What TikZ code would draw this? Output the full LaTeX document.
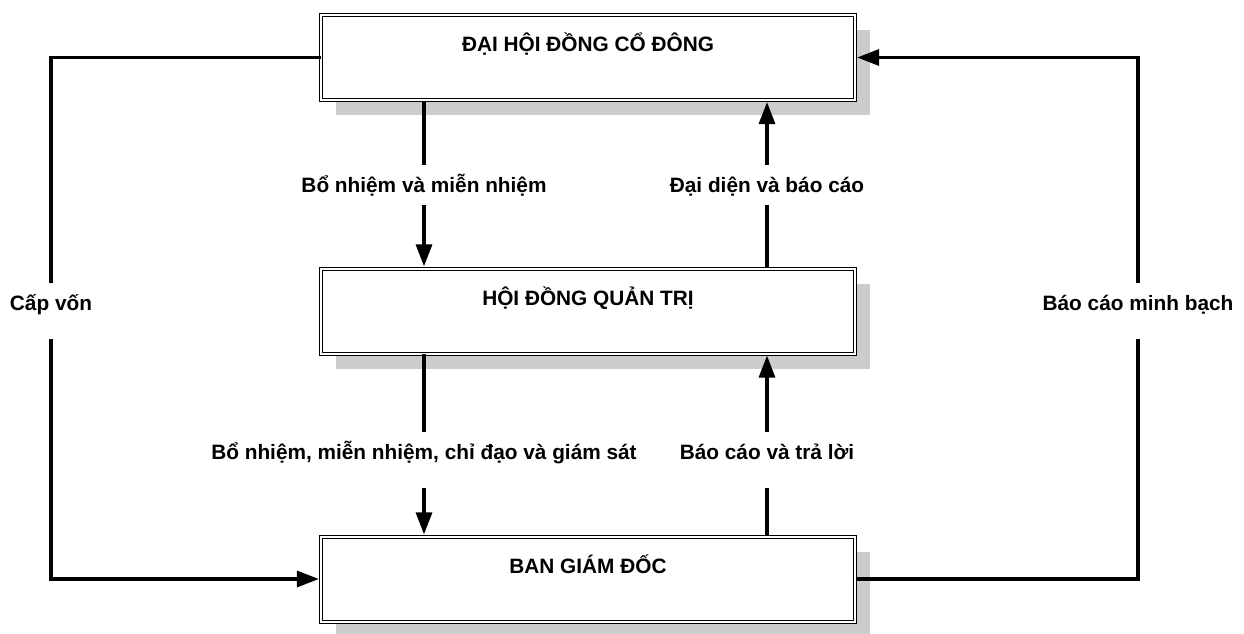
\documentclass[tikz,border=0pt]{standalone}
\usepackage{fontspec}
\setmainfont{Liberation Sans}
\usetikzlibrary{positioning, arrows.meta, shadows}
\tikzset{
	board/.style={draw, rectangle, double, double distance=1pt, line width=0.5pt, fill=white, minimum width=267pt, inner xsep=0pt, inner ysep=0pt, text height=18.25pt, text depth=24.25pt, general shadow={fill=black!20, shadow xshift=7.5pt, shadow yshift=-7.5pt}},
	% labels sitting on the connectors
	note/.style={inner xsep=0pt, inner ysep=0pt, text height=13.5pt, text depth=14.5pt},
	link/.style={line width=1.6pt},
	flow/.style={line width=1.6pt, -{Triangle[length=11pt, width=8pt]}, shorten >=0.8pt},
}

\begin{document}
\begin{tikzpicture}[x=0.5pt, y=-0.5pt, font=\fontsize{10.4}{12.5}\selectfont\bfseries]
		
		\useasboundingbox (0,0) rectangle (1244,633);
		
		\node (dhd) [board] at (588,57.5) {ĐẠI HỘI ĐỒNG CỔ ĐÔNG};
		
		\node (hdqt) [board] at (588,311) {HỘI ĐỒNG QUẢN TRỊ};
		
		\node (bgd) [board] at (588,579) {BAN GIÁM ĐỐC};
		
		\node (bonhiem) [note, anchor=base, text depth=6.5pt] at (424,192) {Bổ nhiệm và miễn nhiệm};
		
		\node (daidien) [note, anchor=base, text depth=6.5pt] at (767,192) {Đại diện và báo cáo};
		
		\node (chidao) [note, anchor=base] at (424,459) {Bổ nhiệm, miễn nhiệm, chỉ đạo và giám sát};
		
		\node (traloi) [note, anchor=base] at (767,459) {Báo cáo và trả lời};
		
		\node (capvon) [note, anchor=base] at (51,310) {Cấp vốn};
		
		\node (minhbach) [note, anchor=base] at (1138,310) {Báo cáo minh bạch};
		
		\begin{scope}[black]
			\draw[link] (dhd.south -| bonhiem) -- (bonhiem.north);
			\draw[flow] (bonhiem.south) -- (hdqt.north -| bonhiem);
			\draw[link] (hdqt.north -| daidien) -- (daidien.south);
			\draw[flow] (daidien.north) -- (dhd.south -| daidien);
			\draw[link] (hdqt.south -| chidao) -- (chidao.north);
			\draw[flow] (chidao.south) -- (bgd.north -| chidao);
			\draw[link] (bgd.north -| traloi) -- (traloi.south);
			\draw[flow] (traloi.north) -- (hdqt.south -| traloi);
			\draw[link] (dhd.west) -| (capvon.north);
			\draw[flow] (capvon.south) |- (bgd.west);
			\draw[link] (bgd.east) -| (minhbach.south);
			\draw[flow] (minhbach.north) |- (dhd.east);
		\end{scope}
	\end{tikzpicture}
\end{document}
